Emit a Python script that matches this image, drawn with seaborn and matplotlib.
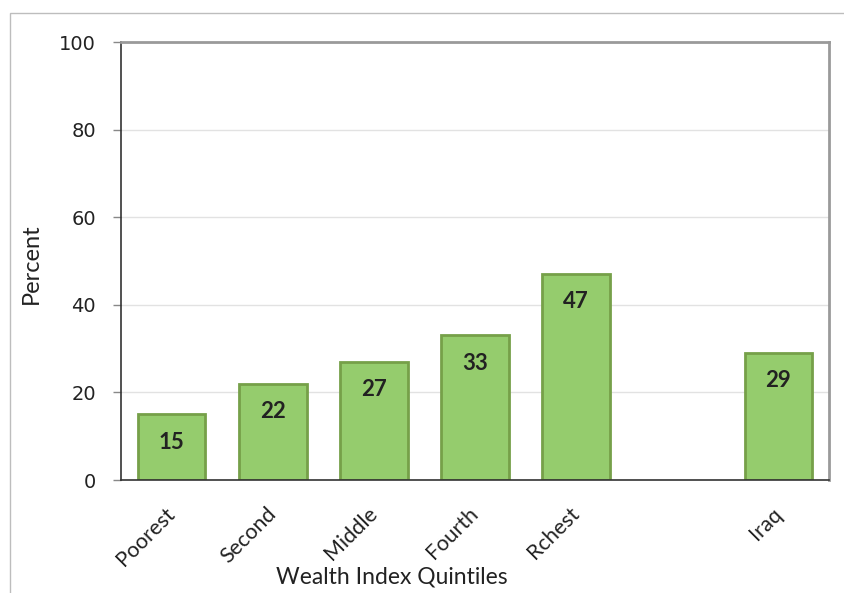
import matplotlib
matplotlib.use("Agg")
import matplotlib.pyplot as plt
import seaborn as sns
import pandas as pd
import numpy as np
from matplotlib.patches import Rectangle
from matplotlib.ticker import FixedLocator

# Share of households by wealth index quintile, with the national figure
categories = ["Poorest", "Second", "Middle", "Fourth", "Rchest", " ", "Iraq"]
values = [15, 22, 27, 33, 47, np.nan, 29]
y_ticks = [0, 20, 40, 60, 80, 100]

df = pd.DataFrame({"group": categories, "percent": values})

sns.set_theme(style="white")
plt.rcParams["font.family"] = ["Lato", "DejaVu Sans"]

fig = plt.figure(figsize=(8.44, 5.93), dpi=100)
ax = fig.add_axes([121 / 844, 1 - 480 / 593, 708 / 844, 438 / 593])

sns.barplot(data=df, x="group", y="percent", order=categories,
            color="#95CC6D", edgecolor="#76A049", linewidth=2,
            width=0.67, saturation=1, ax=ax)

# value labels inside the top of each bar
for i, v in enumerate(values):
    if np.isnan(v):
        continue
    ax.annotate(f"{v:g}", (i, v), xytext=(0, -20), textcoords="offset points",
                ha="center", va="center", fontsize=16, fontweight="bold",
                color="#222222")

ax.set_ylim(0, 100)
ax.set_xlim(-0.5, len(categories) - 0.5)
ax.set_yticks(y_ticks)
ax.set_yticklabels([str(t) for t in y_ticks], fontfamily="DejaVu Sans",
                   fontsize=14, color="#222222")
ax.yaxis.grid(True, color="#E2E2E2", linewidth=1)
ax.set_axisbelow(True)

# category labels, with tick marks between the categories
ax.set_xticks(range(len(categories)))
ax.set_xticklabels(categories, rotation=45, ha="right", va="center",
                   rotation_mode="anchor", fontsize=15.5, color="#222222")
ax.tick_params(axis="x", which="major", length=0, pad=22)
ax.xaxis.set_minor_locator(FixedLocator(np.arange(-0.5, len(categories), 1.0)))
ax.tick_params(axis="x", which="minor", length=7, width=1, color="#888888",
               direction="out")
ax.tick_params(axis="y", which="major", length=6, width=1, color="#888888",
               direction="out", left=True, pad=12)

for side in ["left", "bottom"]:
    ax.spines[side].set_color("#333333")
    ax.spines[side].set_linewidth(1.2)
for side in ["top", "right"]:
    ax.spines[side].set_color("#9A9A9A")
    ax.spines[side].set_linewidth(2)

ax.set_xlabel("Wealth Index Quintiles", fontsize=16.5, color="#222222")
ax.xaxis.set_label_coords((392 - 121) / 708, -0.198)
ax.set_ylabel("Percent", fontsize=17, color="#222222")
ax.yaxis.set_label_coords((42 - 121) / 708, 0.495)

# outer chart frame
fig.patches.append(Rectangle((10 / 844, -0.1), 1.0, (593 - 13) / 593 + 0.1,
                             transform=fig.transFigure, fill=False,
                             edgecolor="#BDBDBD", linewidth=1))

fig.savefig("out.png", dpi=100)
